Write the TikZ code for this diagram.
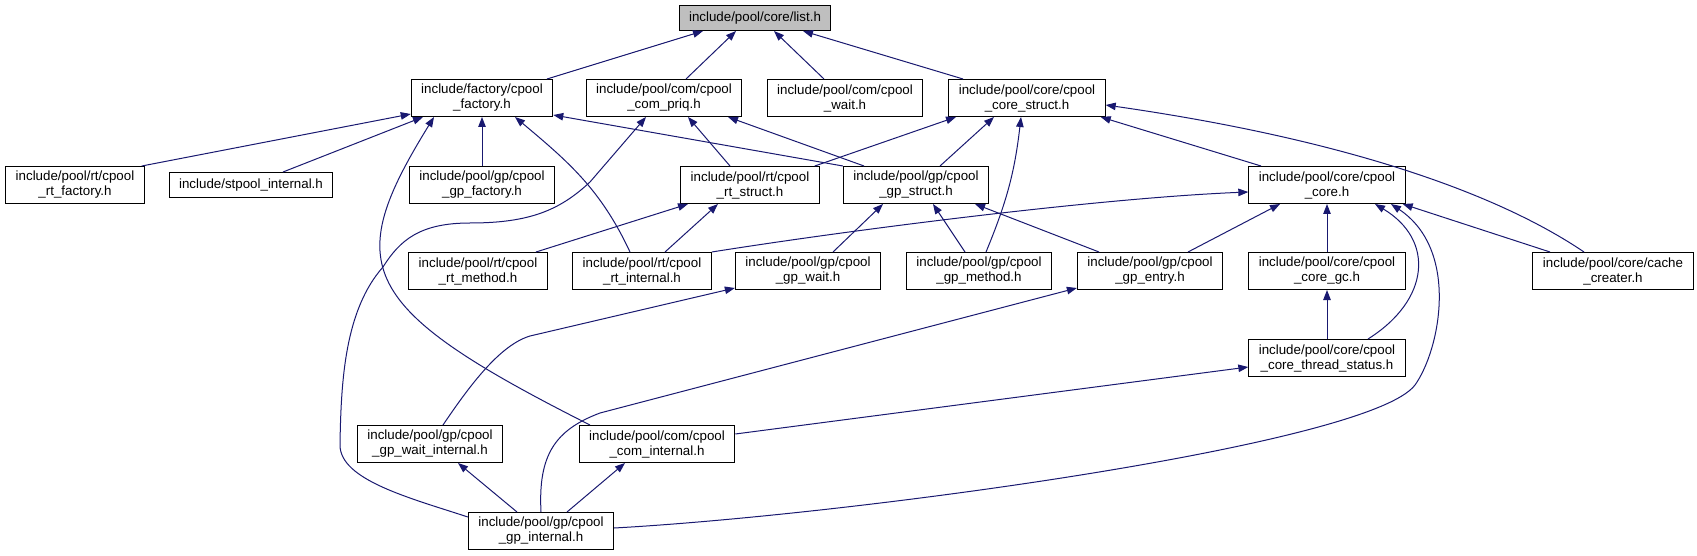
\documentclass[tikz,border=0pt]{standalone}
\usepackage{fontspec}
\setmainfont{Liberation Sans}
\usepackage{tikz}
\usetikzlibrary{arrows.meta, positioning, calc}
\definecolor{dxNavy}{RGB}{25,25,112}
\definecolor{dxGray}{RGB}{191,191,191}

\begin{document}
\begin{tikzpicture}[
    x=1pt, y=-1pt,
    font=\fontsize{13.33}{15}\selectfont,
    file/.style={draw=black, line width=1pt, fill=white, align=center,
                 inner xsep=10pt, inner ysep=0pt, minimum height=37pt},
    single/.style={file, minimum height=25pt},
    root/.style={single, fill=dxGray},
    inc/.style={-{Triangle[length=10pt,width=7.5pt]}, line width=1pt, draw=dxNavy}
]
\useasboundingbox (0,0) rectangle (1697,556);

% top
\node[root] (list) at (755,18) {include/pool/core/list.h};

% first row
\node[file] (fac)     at (482,98)  {include/factory/cpool\\\_factory.h};
\node[file] (priq)    at (664,98)  {include/pool/com/cpool\\\_com\_priq.h};
\node[file] (cwait)   at (845,98)  {include/pool/com/cpool\\\_wait.h};
\node[file] (cstruct) at (1027,98) {include/pool/core/cpool\\\_core\_struct.h};

% second row
\node[file]   (rtfac)    at (75,185)   {include/pool/rt/cpool\\\_rt\_factory.h};
\node[single] (stint)    at (251,185)  {include/stpool\_internal.h};
\node[file]   (gpfac)    at (482,185)  {include/pool/gp/cpool\\\_gp\_factory.h};
\node[file]   (rtstruct) at (750,185)  {include/pool/rt/cpool\\\_rt\_struct.h};
\node[file]   (gpstruct) at (916,185)  {include/pool/gp/cpool\\\_gp\_struct.h};
\node[file]   (core)     at (1327,185) {include/pool/core/cpool\\\_core.h};

% third row
\node[file] (rtmeth)  at (478,271)  {include/pool/rt/cpool\\\_rt\_method.h};
\node[file] (rtint)   at (642,271)  {include/pool/rt/cpool\\\_rt\_internal.h};
\node[file] (gpwait)  at (808,271)  {include/pool/gp/cpool\\\_gp\_wait.h};
\node[file] (gpmeth)  at (979,271)  {include/pool/gp/cpool\\\_gp\_method.h};
\node[file] (gpentry) at (1150,271) {include/pool/gp/cpool\\\_gp\_entry.h};
\node[file] (coregc)  at (1327,271) {include/pool/core/cpool\\\_core\_gc.h};
\node[file] (cache)   at (1613,271) {include/pool/core/cache\\\_creater.h};

% lower rows
\node[file] (thread)    at (1327,358) {include/pool/core/cpool\\\_core\_thread\_status.h};
\node[file] (gpwaitint) at (430,444)  {include/pool/gp/cpool\\\_gp\_wait\_internal.h};
\node[file] (comint)    at (657,444)  {include/pool/com/cpool\\\_com\_internal.h};
\node[file] (gpint)     at (541,531)  {include/pool/gp/cpool\\\_gp\_internal.h};

% includes of list.h
\draw[inc] ([xshift=65pt]fac.north)     -- ([xshift=-52pt]list.south);
\draw[inc] ([xshift=22pt]priq.north)    -- ([xshift=-19pt]list.south);
\draw[inc] ([xshift=-21pt]cwait.north)  -- ([xshift=19pt]list.south);
\draw[inc] ([xshift=-64pt]cstruct.north) -- ([xshift=48pt]list.south);

% includes of cpool_factory.h
\draw[inc] ([xshift=-3pt]rtfac.north east) -- ([yshift=3pt]fac.south west);
\draw[inc] ([xshift=32pt]stint.north) -- ([xshift=-59pt]fac.south);
\draw[inc] (gpfac) -- (fac);
\draw[inc] ([xshift=-12pt]rtint.north) to[out=115, in=-40] ([xshift=33pt]fac.south);
\draw[inc] (gpstruct.north west) -- ([yshift=2pt]fac.south east);
\draw[inc] ([xshift=-67pt]comint.north)
    .. controls (356,307) and (342,266) .. ([xshift=-48pt]fac.south);

% includes of cpool_com_priq.h
\draw[inc] ([yshift=-5pt]gpint.north west)
    .. controls (410,498) and (340,480) .. (340,445)
    .. controls (341,380) and (345,310) .. (383,267)
    .. controls (400,240) and (420,223) .. (470,223)
    .. controls (530,223) and (560,210) .. (590,182)
    -- ([xshift=-18pt]priq.south);
\draw[inc] ([xshift=-20pt]rtstruct.north) -- ([xshift=24pt]priq.south);
\draw[inc] ([xshift=-52pt]gpstruct.north) -- ([xshift=64pt]priq.south);

% includes of cpool_core_struct.h
\draw[inc] ([xshift=-5pt]rtstruct.north east) -- ([xshift=-71pt]cstruct.south);
\draw[inc] ([xshift=24pt]gpstruct.north) -- ([xshift=-33pt]cstruct.south);
\draw[inc] ([xshift=7pt]gpmeth.north) to[bend right=8] ([xshift=-6pt]cstruct.south);
\draw[inc] ([xshift=-66pt]core.north) -- ([xshift=-5pt]cstruct.south east);
\draw[inc] ([xshift=-29pt]cache.north)
    .. controls (1500,195) and (1350,140) .. ([yshift=-7pt]cstruct.east);

% includes of the struct headers
\draw[inc] ([xshift=58pt]rtmeth.north) -- ([xshift=-62pt]rtstruct.south);
\draw[inc] ([xshift=23pt]rtint.north) -- ([xshift=-32pt]rtstruct.south);
\draw[inc] ([xshift=25pt]gpwait.north) -- ([xshift=-33pt]gpstruct.south);
\draw[inc] ([xshift=-14pt]gpmeth.north) -- ([xshift=17pt]gpstruct.south);
\draw[inc] ([xshift=-51pt]gpentry.north) -- ([xshift=59pt]gpstruct.south);

% includes of cpool_core.h
\draw[inc] (rtint.north east)
    .. controls (850,230) and (1100,198) .. ([yshift=-7pt]core.west);
\draw[inc] ([xshift=38pt]gpentry.north) -- ([xshift=-47pt]core.south);
\draw[inc] (coregc) -- (core);
\draw[inc] ([xshift=41pt]thread.north)
    .. controls (1430,300) and (1435,240) .. ([xshift=48pt]core.south);
\draw[inc] ([yshift=3pt]gpint.east)
    .. controls (850,515) and (1370,445) .. (1415,385)
    .. controls (1440,350) and (1460,250) .. ([xshift=64pt]core.south);
\draw[inc] ([xshift=-63pt]cache.north) -- ([xshift=-3pt]core.south east);
\draw[inc] (thread) -- (coregc);

% bottom part
\draw[inc] ([xshift=13pt]gpwaitint.north)
    .. controls (470,385) and (500,345) .. (530,336)
    -- ([yshift=2pt]gpwait.south west);
\draw[inc] (gpint.north)
    .. controls (538,455) and (555,430) .. (600,413)
    -- ([yshift=2pt]gpentry.south west);
\draw[inc] ([yshift=10pt]comint.east) -- ([yshift=-9pt]thread.west);
\draw[inc] ([xshift=-24pt]gpint.north) -- ([xshift=28pt]gpwaitint.south);
\draw[inc] ([xshift=26pt]gpint.north) -- ([xshift=-32pt]comint.south);
\end{tikzpicture}
\end{document}
